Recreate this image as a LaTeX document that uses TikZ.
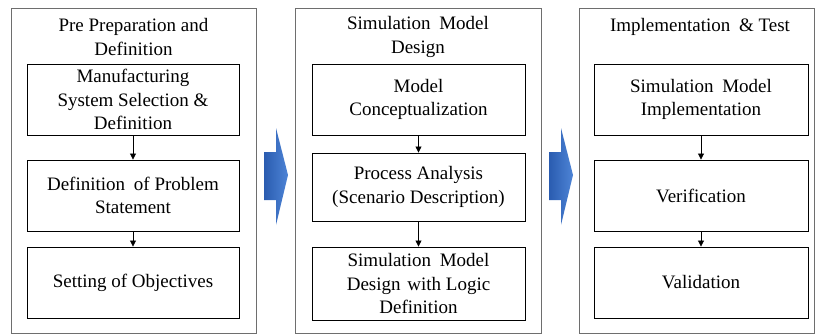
\documentclass[tikz,border=0pt]{standalone}
\usepackage{fontspec}
\setmainfont{Liberation Serif}
\usetikzlibrary{arrows.meta}
\definecolor{panelgray}{RGB}{110,110,110}
\definecolor{flowdark}{RGB}{42,92,176}
\definecolor{flowlight}{RGB}{78,132,214}
\begin{document}
\begin{tikzpicture}[x=1pt,y=-1pt,
  txt/.style={font=\fontsize{19}{23.5}\selectfont, align=center, inner sep=0pt},
  panel/.style={draw=panelgray, line width=0.9pt, inner sep=0pt},
  stepbox/.style={txt, draw=black, line width=0.9pt},
  conn/.style={line width=0.8pt, -{Triangle[width=6pt,length=6pt]}},
  bigarrow/.style={left color=flowdark, right color=flowlight, draw=none}
]
\useasboundingbox (0,0) rectangle (815,335);

% Phase 1: pre preparation and definition
\node[panel, minimum width=245pt, minimum height=325pt] (p1) at (133.5,170.5) {};
\node[txt] (t1) at (133.5,37) {Pre Preparation and\\Definition};
\node[stepbox, minimum width=212pt, minimum height=71pt] (a1) at (133,99.5)
  {Manufacturing\\System Selection \&\\Definition};
\node[stepbox, minimum width=212pt, minimum height=71pt] (a2) at (133,195.5)
  {Definition\hspace{4pt} of Problem\\Statement};
\node[stepbox, minimum width=212pt, minimum height=71pt] (a3) at (133,282.5)
  {Setting of Objectives};
\draw[conn] (a1.south) -- (a2.north);
\draw[conn] (a2.south) -- (a3.north);

% Phase 2: simulation model design
\node[panel, minimum width=246pt, minimum height=325pt] (p2) at (418,170.5) {};
\node[txt] (t2) at (418,37) {Simulation\hspace{4pt} Model\\Design};
\node[stepbox, minimum width=213pt, minimum height=71pt] (b1) at (418.5,99.5)
  {Model\\Conceptualization};
\node[stepbox, minimum width=213pt, minimum height=68pt] (b2) at (418.5,187)
  {Process Analysis\\(Scenario Description)};
\node[stepbox, minimum width=213pt, minimum height=73pt] (b3) at (418.5,283.5)
  {Simulation\hspace{4pt} Model\\Design\hspace{2pt} with Logic\\Definition};
\draw[conn] (b1.south) -- (b2.north);
\draw[conn] (b2.south) -- (b3.north);

% Phase 3: implementation and test
\node[panel, minimum width=235pt, minimum height=325pt] (p3) at (696.5,170.5) {};
\node[txt] (t3) at (700,27) {Implementation\hspace{4pt} \& Test};
\node[stepbox, minimum width=214pt, minimum height=71pt] (c1) at (701,99.5)
  {Simulation\hspace{4pt} Model\\Implementation};
\node[stepbox, minimum width=214pt, minimum height=71pt] (c2) at (701,195.5)
  {Verification};
\node[stepbox, minimum width=214pt, minimum height=71pt] (c3) at (701,282.5)
  {Validation};
\draw[conn] (c1.south) -- (c2.north);
\draw[conn] (c2.south) -- (c3.north);

% Block arrows between the phases
\path[bigarrow] (264,152) -- (276,152) -- (276,128) -- (288,175)
  -- (276,225) -- (276,200) -- (264,200) -- cycle;
\path[bigarrow] (549,152) -- (561,152) -- (561,128) -- (573,175)
  -- (561,225) -- (561,200) -- (549,200) -- cycle;
\end{tikzpicture}
\end{document}
